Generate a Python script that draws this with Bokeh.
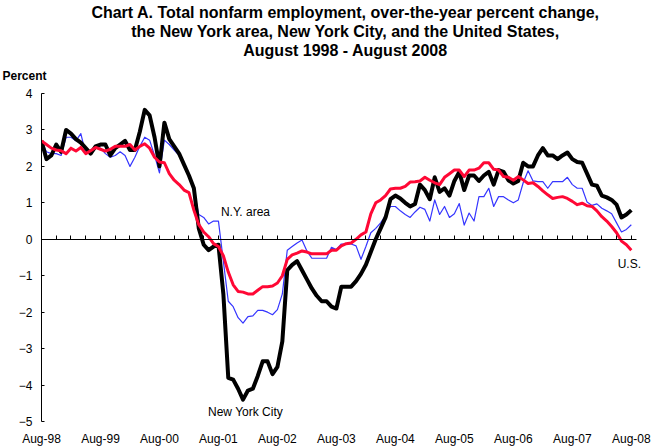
from bokeh.plotting import figure
from bokeh.models import LinearAxis, FixedTicker, Label, Range1d, Title
from bokeh.embed import file_html
from bokeh.resources import INLINE

# Month index: 0 = Aug-98 ... 120 = Aug-08
months = list(range(121))

nyc = [
    2.7, 2.2, 2.3, 2.6, 2.4, 3.0, 2.9, 2.75, 2.65, 2.5,
    2.35, 2.55, 2.6, 2.6, 2.3, 2.5, 2.6, 2.7, 2.45, 2.45,
    2.95, 3.55, 3.4, 2.8, 2.0, 3.2, 2.75, 2.55, 2.35, 2.05,
    1.75, 1.4, 0.3, -0.15, -0.3, -0.2, -0.15, -1.5, -3.8, -3.85,
    -4.1, -4.4, -4.15, -4.1, -3.75, -3.35, -3.35, -3.7, -3.5, -2.8,
    -0.85, -0.7, -0.6, -0.85, -1.1, -1.35, -1.55, -1.7, -1.7, -1.85,
    -1.9, -1.3, -1.3, -1.3, -1.15, -0.95, -0.7, -0.35, 0.0, 0.3,
    0.6, 1.1, 1.2, 1.12, 1.0, 0.9, 0.97, 1.5, 1.35, 1.1,
    1.7, 1.3, 1.4, 1.2, 1.6, 1.85, 1.35, 1.75, 1.75, 1.6,
    1.75, 1.85, 1.5, 1.9, 1.85, 1.62, 1.53, 1.6, 2.1, 2.0,
    2.0, 2.3, 2.5, 2.3, 2.3, 2.2, 2.3, 2.38, 2.2, 2.12,
    2.1, 1.8, 1.5, 1.47, 1.2, 1.15, 1.08, 0.95, 0.6, 0.68,
    0.8,
]

us = [
    2.7, 2.6, 2.5, 2.45, 2.43, 2.35, 2.5, 2.42, 2.52, 2.35,
    2.43, 2.52, 2.47, 2.42, 2.47, 2.55, 2.55, 2.55, 2.6, 2.45,
    2.55, 2.62, 2.5, 2.25, 2.12, 2.1, 1.8, 1.62, 1.5, 1.35,
    1.28, 0.8, 0.4, 0.2, 0.07, -0.12, -0.2, -0.45, -0.9, -1.25,
    -1.43, -1.45, -1.5, -1.5, -1.4, -1.3, -1.3, -1.28, -1.2, -1.0,
    -0.55, -0.43, -0.38, -0.32, -0.35, -0.4, -0.4, -0.4, -0.4, -0.3,
    -0.3, -0.18, -0.12, -0.1, 0.0, 0.12, 0.2, 0.7, 1.0, 1.08,
    1.2, 1.38, 1.4, 1.4, 1.45, 1.57, 1.58, 1.6, 1.7, 1.62,
    1.55, 1.5, 1.7, 1.8, 1.9, 1.9, 1.72, 1.9, 1.9, 1.95,
    2.1, 2.1, 1.92, 1.9, 1.72, 1.7, 1.62, 1.72, 1.63, 1.53,
    1.55, 1.45, 1.33, 1.22, 1.12, 1.15, 1.17, 1.12, 1.04, 0.95,
    0.99, 0.92, 0.9, 0.78, 0.62, 0.5, 0.35, 0.18, -0.05, -0.15,
    -0.3,
]

ny_area = [
    2.7, 2.4, 2.35, 2.35, 2.3, 2.8, 2.8, 2.7, 2.9, 2.35,
    2.45, 2.5, 2.5, 2.35, 2.25, 2.3, 2.4, 2.3, 2.0, 2.25,
    2.55, 2.8, 2.72, 2.3, 1.82, 2.72, 2.6, 2.45, 2.3, 2.05,
    1.75, 1.35, 0.68, 0.6, 0.42, 0.5, 0.5, -0.6, -1.7, -1.85,
    -2.15, -2.3, -2.12, -2.1, -1.95, -1.95, -2.0, -2.07, -1.93, -1.5,
    -0.3, -0.2, -0.1, -0.02, -0.32, -0.52, -0.52, -0.52, -0.52, -0.22,
    -0.28, -0.13, -0.13, -0.13, -0.18, -0.55, -0.2, 0.18, 0.3, 0.45,
    0.65, 0.9, 0.9, 0.78, 0.68, 0.6, 0.75, 0.88, 0.82, 0.5,
    1.08, 0.68, 0.9, 0.6, 0.7, 0.98, 0.39, 0.72, 0.5, 1.17,
    1.17, 1.4, 0.9, 1.17, 1.17, 1.08, 1.0, 1.08, 1.55, 1.88,
    1.6, 1.58, 1.58, 1.4, 1.58, 1.58, 1.58, 1.7, 1.5, 1.4,
    1.4, 1.02, 0.93, 0.97, 0.85, 0.78, 0.7, 0.45, 0.2, 0.27,
    0.4,
]

x_label_months = [0, 12, 24, 36, 48, 60, 72, 84, 96, 108, 120]
x_labels = ["Aug-98", "Aug-99", "Aug-00", "Aug-01", "Aug-02", "Aug-03",
            "Aug-04", "Aug-05", "Aug-06", "Aug-07", "Aug-08"]
x_tick_months = list(range(0, 121, 3))
y_ticks = [-5, -4, -3, -2, -1, 0, 1, 2, 3, 4]

title_lines = [
    "Chart A. Total nonfarm employment, over-the-year percent change,",
    "the New York area, New York City, and the United States,",
    "August 1998 - August 2008",
]

FONT = "Liberation Sans"

p = figure(width=655, height=448, output_backend="svg", toolbar_location=None,
           x_range=Range1d(0, 123.7), y_range=Range1d(-5, 4),
           x_axis_location=None, y_axis_location="left", title_location=None,
           min_border_left=41, min_border_right=6,
           min_border_top=93, min_border_bottom=26)
p.outline_line_color = None
p.grid.visible = False
p.background_fill_color = "white"
p.border_fill_color = "white"

# y axis
yax = p.yaxis[0]
yax.ticker = FixedTicker(ticks=y_ticks)
yax.axis_line_color = "black"
yax.major_tick_line_color = "black"
yax.major_tick_in = 3
yax.major_tick_out = 0
yax.minor_tick_line_color = None
yax.major_label_standoff = 9
yax.major_label_text_font = FONT
yax.major_label_text_font_size = "12px"
yax.major_label_text_color = "black"

# bottom labels axis
lab_ax = LinearAxis(ticker=FixedTicker(ticks=x_label_months),
                    major_label_overrides={m: l for m, l in zip(x_label_months, x_labels)},
                    axis_line_color=None, major_tick_line_color=None,
                    major_tick_in=0, major_tick_out=0,
                    minor_tick_line_color=None, minor_tick_in=0, minor_tick_out=0,
                    major_label_standoff=10,
                    major_label_text_font=FONT, major_label_text_font_size="12px",
                    major_label_text_color="black")
p.add_layout(lab_ax, "below")

# zero line axis with upward ticks
zero_ax = LinearAxis(fixed_location=0, ticker=FixedTicker(ticks=x_tick_months),
                     bounds=(0, 121),
                     major_label_overrides={m: "" for m in x_tick_months},
                     axis_line_color="black", major_tick_line_color="black",
                     major_tick_out=4, major_tick_in=0,
                     minor_tick_line_color=None, minor_tick_in=0, minor_tick_out=0,
                     major_label_standoff=0, major_label_text_font_size="1px")
p.add_layout(zero_ax, "above")

# "Percent" and title lines in the top panel (first added = nearest the plot)
p.add_layout(Title(text="Percent", align="left", vertical_align="middle",
                   offset=-39, standoff=19,
                   text_font=FONT, text_font_size="12px", text_font_style="bold",
                   text_color="black"), "above")
for t in reversed(title_lines):
    p.add_layout(Title(text=t, align="center", standoff=0,
                       text_font=FONT, text_font_size="16px", text_font_style="bold",
                       text_color="black"), "above")

p.line(months, ny_area, line_color="#3535FF", line_width=1.2, line_join="round")
p.line(months, nyc, line_color="black", line_width=4, line_join="round")
p.line(months, us, line_color="#FF0835", line_width=3, line_join="round")

# series annotations
p.add_layout(Label(x=41.5, y=0.75, text="N.Y. area", text_align="center", text_baseline="middle",
                   text_font=FONT, text_font_size="12px", text_color="black"))
p.add_layout(Label(x=41.5, y=-4.75, text="New York City", text_align="center", text_baseline="middle",
                   text_font=FONT, text_font_size="12px", text_color="black"))
p.add_layout(Label(x=119.6, y=-0.68, text="U.S.", text_align="center", text_baseline="middle",
                   text_font=FONT, text_font_size="12px", text_color="black"))

open("out.html", "w").write(file_html(p, INLINE))
